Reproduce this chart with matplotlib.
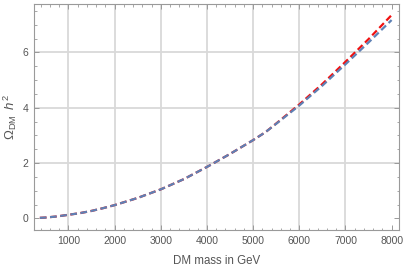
import numpy as np
import matplotlib
matplotlib.use("Agg")
import matplotlib.pyplot as plt
from matplotlib.ticker import MultipleLocator

plt.rcParams['font.family'] = ['Liberation Sans', 'DejaVu Sans']
plt.rcParams['mathtext.fontset'] = 'custom'
plt.rcParams['mathtext.rm'] = 'Liberation Sans'
plt.rcParams['mathtext.it'] = 'Liberation Sans:italic'

# DM mass (GeV) and relic abundance
mass = [380, 500, 750, 1000, 1250, 1500, 1750, 2000, 2500, 3000, 3500, 4000,
        4500, 5000, 5270, 5500, 6000, 6500, 7000, 7500, 8000]
omega_red = [0.02, 0.03, 0.07, 0.13, 0.19, 0.27, 0.37, 0.48, 0.74, 1.05, 1.42,
             1.86, 2.33, 2.83, 3.12, 3.43, 4.12, 4.86, 5.66, 6.48, 7.35]
omega_blue = [0.02, 0.03, 0.07, 0.13, 0.19, 0.27, 0.37, 0.48, 0.74, 1.05, 1.42,
              1.86, 2.33, 2.83, 3.12, 3.42, 4.08, 4.80, 5.57, 6.36, 7.17]

fig = plt.figure(figsize=(4.05, 2.71), dpi=100)
ax = fig.add_axes([34/405, 41/271, 365/405, 226/271])

ax.plot(mass, omega_red, color='#f01010', lw=1.6, dashes=(3, 1.6), zorder=3)
ax.plot(mass, omega_blue, color='#5e81b5', lw=1.6, dashes=(3, 1.6), zorder=4)

ax.set_xlim(253, 8160)
ax.set_ylim(-0.42, 7.75)

ax.xaxis.set_major_locator(MultipleLocator(1000))
ax.xaxis.set_minor_locator(MultipleLocator(200))
ax.yaxis.set_major_locator(MultipleLocator(2))
ax.yaxis.set_minor_locator(MultipleLocator(0.5))

for x in range(1000, 8000, 1000):
    ax.axvline(x, color='#d9d9d9', lw=1.3, zorder=1)
for y in [2, 4, 6]:
    ax.axhline(y, color='#d9d9d9', lw=1.3, zorder=1)

ax.tick_params(which='both', direction='in', top=True, right=True,
               color='#999999', labelcolor='#555555', labelsize=7.5)
ax.tick_params(which='major', length=3.5, width=0.7, pad=4)
ax.tick_params(which='minor', length=1.8, width=0.6)
for s in ax.spines.values():
    s.set_color('#9a9a9a')
    s.set_linewidth(0.8)

ax.set_xlabel('DM mass in GeV', color='#555555', fontsize=8.3, labelpad=7)
ax.set_ylabel(r'$\Omega_{\mathrm{DM}}\;\;h^2$', color='#555555', fontsize=9.5,
              va='center')
ax.yaxis.set_label_coords(-24/365, 0.5)

fig.savefig('out.png', dpi=100)
